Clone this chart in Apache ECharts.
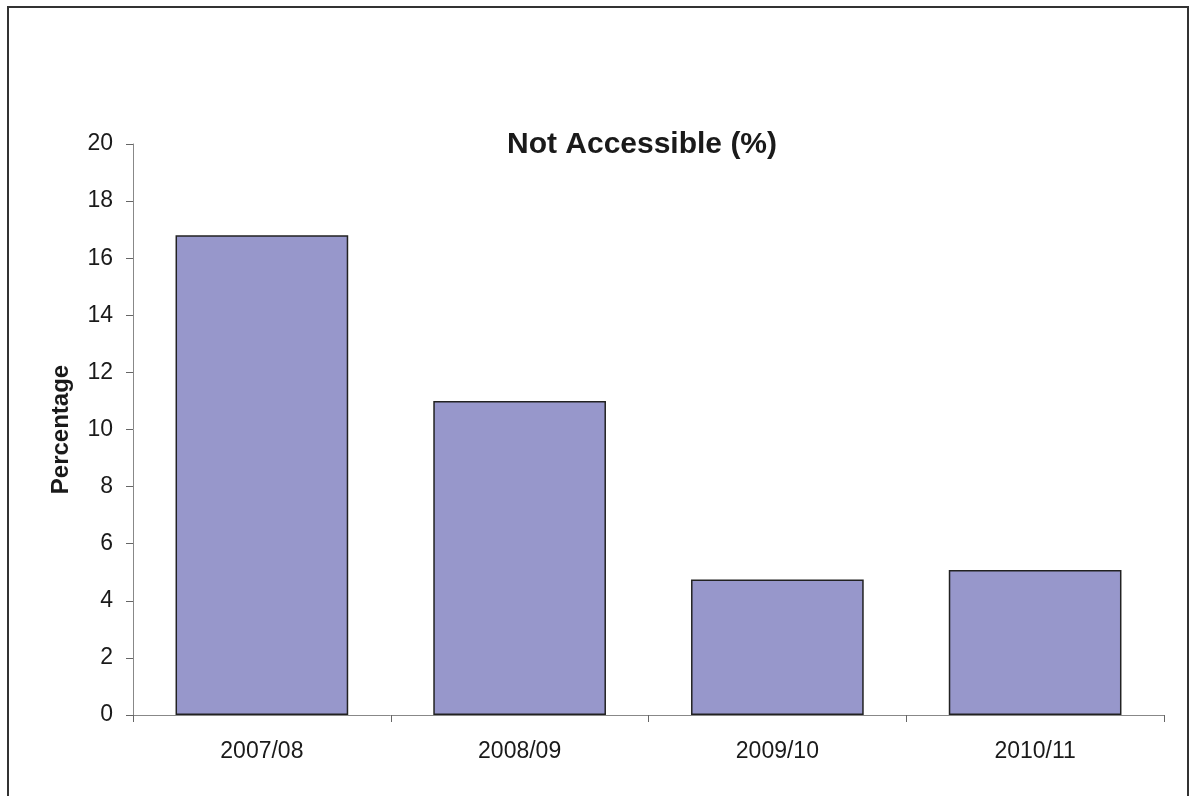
<!DOCTYPE html>
<html>
<head>
<meta charset="utf-8">
<script src="https://cdn.jsdelivr.net/npm/echarts@6/dist/echarts.min.js"></script>
<style>
html,body{margin:0;padding:0;background:#fff;}
#chart{width:1195px;height:796px;}
</style>
</head>
<body>
<div id="chart"></div>
<script>
// 数据
const years = ['2007/08', '2008/09', '2009/10', '2010/11'];
const notAccessible = [16.8, 11.0, 4.75, 5.08];
const yTicks = { min: 0, max: 20, interval: 2 };

const chart = echarts.init(document.getElementById('chart'));
const font = 'Liberation Sans, Arial, sans-serif';

const option = {
    backgroundColor: '#fff',
    animation: false,
    title: {
        text: 'Not Accessible (%)',
        left: 637,
        top: 125,
        textAlign: 'center',
        textStyle: { fontFamily: font, fontSize: 30, fontWeight: 'bold', color: '#1a1a1a' }
    },
    grid: { left: 133, top: 144, right: 31, bottom: 81, containLabel: false },
    graphic: [{
        type: 'rect',
        shape: { x: 8, y: 7, width: 1180, height: 820 },
        style: { fill: 'none', stroke: '#333', lineWidth: 2 },
        silent: true
    }],
    xAxis: {
        type: 'category',
        data: years,
        axisLine: { lineStyle: { color: '#888', width: 1 } },
        axisTick: { show: true, alignWithLabel: false, length: 7, lineStyle: { color: '#666' } },
        axisLabel: { fontFamily: font, fontSize: 23, color: '#1a1a1a', margin: 25 }
    },
    yAxis: {
        type: 'value',
        min: yTicks.min,
        max: yTicks.max,
        interval: yTicks.interval,
        name: 'Percentage',
        nameLocation: 'middle',
        nameGap: 60,
        nameTextStyle: { fontFamily: font, fontSize: 24, fontWeight: 'bold', color: '#1a1a1a' },
        axisLine: { show: true, lineStyle: { color: '#888', width: 1 } },
        axisTick: { show: true, length: 7, lineStyle: { color: '#666' } },
        splitLine: { show: false },
        axisLabel: { fontFamily: font, fontSize: 23, color: '#1a1a1a', margin: 20 }
    },
    series: [{
        type: 'bar',
        data: notAccessible,
        barCategoryGap: '33%',
        itemStyle: { color: '#9797cb', borderColor: '#222', borderWidth: 1.5 }
    }]
};
chart.setOption(option);
</script>
</body>
</html>
